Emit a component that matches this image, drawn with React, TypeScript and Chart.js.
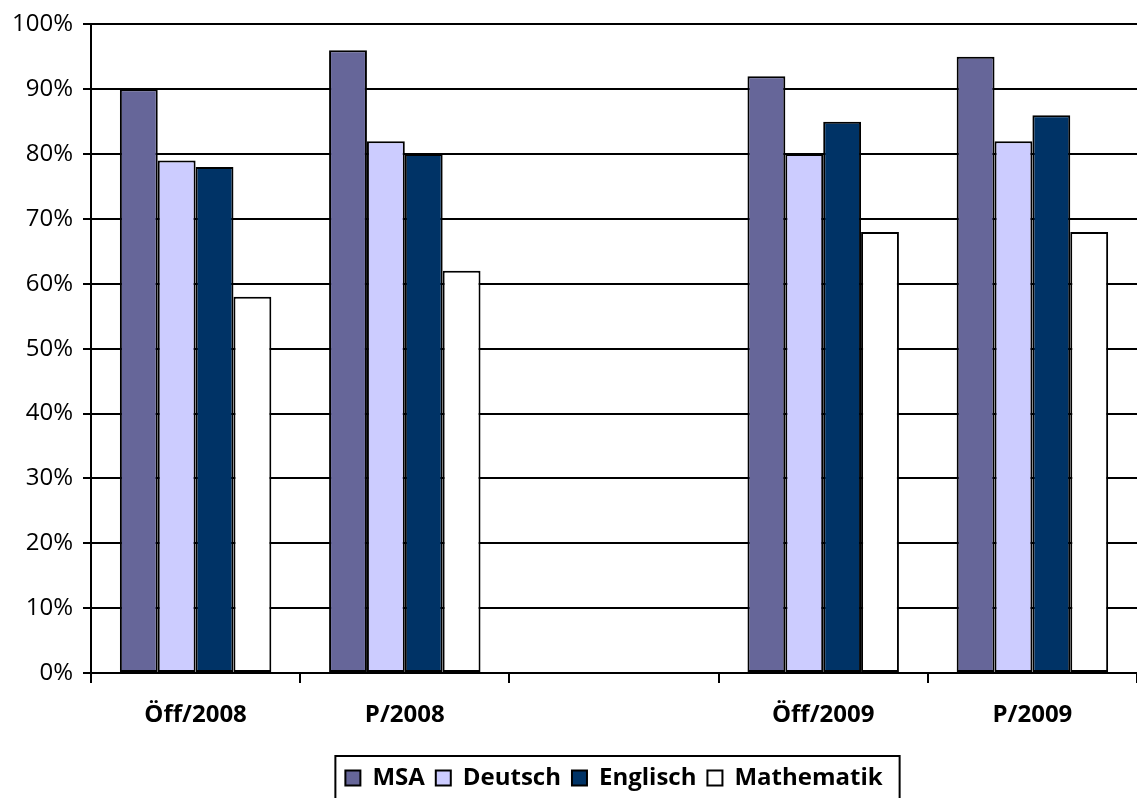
import React, { useEffect, useRef } from "react";
import { Chart, registerables } from "chart.js";

Chart.register(...registerables);

const categories = ["Öff/2008", "P/2008", "", "Öff/2009", "P/2009"];
const msa = [90, 96, null, 92, 95];
const deutsch = [79, 82, null, 80, 82];
const englisch = [78, 80, null, 85, 86];
const mathematik = [58, 62, null, 68, 68];
const yTicks = [0, 10, 20, 30, 40, 50, 60, 70, 80, 90, 100];

const FONT = "'Open Sans', 'Noto Sans', sans-serif";

const legendBorder = {
  id: "legendBorder",
  afterDraw(chart: any) {
    const lg = chart.legend;
    if (!lg || !lg.legendHitBoxes || !lg.legendHitBoxes.length) return;
    const boxes = lg.legendHitBoxes;
    let l = Infinity, r = -Infinity, c = 0;
    boxes.forEach((b: any) => {
      l = Math.min(l, b.left);
      r = Math.max(r, b.left + b.width);
      c = b.top + b.height / 2;
    });
    const ctx = chart.ctx;
    ctx.save();
    ctx.strokeStyle = "#000";
    ctx.lineWidth = 2;
    ctx.strokeRect(l - 10, c - 22, r - l + 27, 80);
    ctx.restore();
  },
};

export default function App() {
  const ref = useRef<HTMLCanvasElement>(null);
  useEffect(() => {
    if (!ref.current) return;
    const ds = (label: string, data: any[], color: string) => ({
      label,
      data,
      backgroundColor: color,
      borderColor: "#000",
      borderWidth: 2,
      borderSkipped: false as any,
      barPercentage: 1,
      categoryPercentage: 0.724,
    });
    const chart = new Chart(ref.current, {
      type: "bar",
      data: {
        labels: categories,
        datasets: [
          ds("MSA", msa, "#666699"),
          ds("Deutsch", deutsch, "#CCCCFF"),
          ds("Englisch", englisch, "#003366"),
          ds("Mathematik", mathematik, "#FFFFFF"),
        ],
      },
      options: {
        responsive: false,
        animation: false,
        layout: { padding: { top: 23, bottom: -2, left: 0, right: -4 } },
        plugins: {
          tooltip: { enabled: false },
          legend: {
            position: "bottom",
            fullSize: false,
            labels: {
              color: "#000",
              font: { family: FONT, size: 24, weight: "bold" },
              boxWidth: 15,
              boxHeight: 15,
              padding: 11,
            },
          },
        },
        scales: {
          x: {
            offset: true,
            grid: {
              display: true,
              drawOnChartArea: false,
              drawTicks: true,
              tickLength: 10,
              color: "#000",
              lineWidth: 2,
              offset: true,
            },
            border: { display: true, color: "#000", width: 2 },
            ticks: {
              color: "#000",
              padding: 18,
              font: { family: FONT, size: 24, weight: "bold" },
              maxRotation: 0,
            },
            afterFit(scale: any) {
              scale.height = 82;
            },
          },
          y: {
            min: 0,
            max: 100,
            afterBuildTicks(scale: any) {
              scale.ticks = yTicks.map((v) => ({ value: v }));
            },
            grid: {
              color: "#000",
              lineWidth: 2,
              drawTicks: true,
              tickLength: 8,
            },
            border: { display: true, color: "#000", width: 2 },
            ticks: {
              color: "#000",
              padding: 10,
              font: { family: FONT, size: 24 },
              callback: (v: any) => v + "%",
            },
            afterFit(scale: any) {
              scale.width = 91;
            },
          },
        },
      },
      plugins: [legendBorder],
    });
    return () => chart.destroy();
  }, []);
  return (
    <div style={{ position: "absolute", left: 0, top: 0, width: 1137, height: 798, background: "#fff" }}>
      <canvas ref={ref} width={1137} height={798} style={{ display: "block" }} />
    </div>
  );
}
